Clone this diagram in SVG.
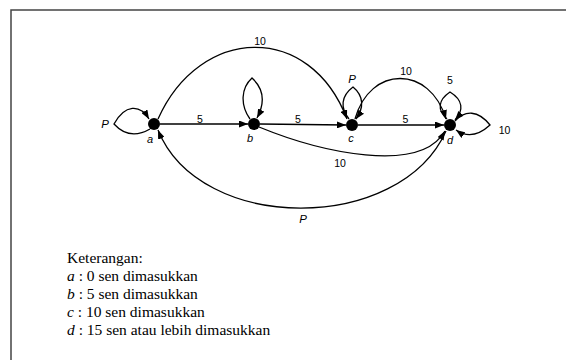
<svg xmlns="http://www.w3.org/2000/svg" width="566" height="360" viewBox="0 0 566 360">
<style>
.edge{fill:none;stroke:#000;stroke-width:1.3;marker-end:url(#arr)}
.node{fill:#000}
.lbl{font-family:"Liberation Sans",Arial,sans-serif;font-size:10.5px;fill:#000;text-anchor:middle}
.it{font-style:italic;font-size:11.5px}
.nl{font-family:"Liberation Sans",Arial,sans-serif;font-style:italic;font-size:11px;fill:#000;text-anchor:middle}
.leg{font-family:"Liberation Serif","Times New Roman",serif;font-size:15.5px;fill:#000}
.frame{fill:none;stroke:#444;stroke-width:1.5}
</style>
<defs>
<marker id="arr" viewBox="0 0 9 7" refX="9" refY="3.5" markerWidth="9" markerHeight="7" markerUnits="userSpaceOnUse" orient="auto">
<path d="M0,0 L9,3.5 L0,7 z" fill="#000"/>
</marker>
</defs>
<rect width="566" height="360" fill="#fff"/>
<path class="frame" d="M11,360 L11,10 L566,10"/>

<g id="connectors">
<path class="edge" d="M150,129 C138,136 125,136 114,124 C125,104 140,104 149,119"/>
<path class="edge" d="M250,119 C240,105 241,88 252,78 C265,90 265,103 257,118"/>
<path class="edge" d="M349,119 C340,108 341,96 353,87 C364,96 364,108 356,119"/>
<path class="edge" d="M447,119 C437,110 438,100 450,92 C463,100 464,110 455,120"/>
<path class="edge" d="M455,121 C465,110 478,110 490,125 C478,136 466,137 456,130"/>
<path class="edge" d="M160,124 L248,124"/>
<path class="edge" d="M260,124 L346,125"/>
<path class="edge" d="M358,125 L444,125"/>
<path class="edge" d="M158,119 C200,25 310,22 347,119"/>
<path class="edge" d="M355,119 C370,65 430,65 446,119"/>
<path class="edge" d="M259,127 C320,152 420,175 445,131"/>
<path class="edge" d="M446,131 C400,234 200,234 158,130"/>
</g>

<g id="edge-labels">
<text class="lbl" x="260" y="45">10</text>
<text class="lbl" x="200" y="122.5">5</text>
<text class="lbl" x="298" y="122.5">5</text>
<text class="lbl" x="405.5" y="123">5</text>
<text class="lbl" x="406" y="74.5">10</text>
<text class="lbl" x="450" y="84">5</text>
<text class="lbl" x="504.5" y="134">10</text>
<text class="lbl" x="340" y="166.5">10</text>
<text class="lbl it" x="105" y="128">P</text>
<text class="lbl it" x="352" y="83">P</text>
<text class="lbl it" x="303" y="223">P</text>
</g>

<g id="node-a"><circle class="node" cx="154" cy="124" r="6"/><text class="nl" x="150" y="143">a</text></g>
<g id="node-b"><circle class="node" cx="254" cy="124" r="6"/><text class="nl" x="250" y="141.5">b</text></g>
<g id="node-c"><circle class="node" cx="352" cy="125" r="6"/><text class="nl" x="351" y="142">c</text></g>
<g id="node-d"><circle class="node" cx="450" cy="125" r="6"/><text class="nl" x="450" y="143.5">d</text></g>

<g id="legend">
<text class="leg" x="67" y="263">Keterangan:</text>
<text class="leg" x="67" y="281"><tspan font-style="italic">a</tspan> : 0 sen dimasukkan</text>
<text class="leg" x="67" y="299"><tspan font-style="italic">b</tspan> : 5 sen dimasukkan</text>
<text class="leg" x="67" y="317"><tspan font-style="italic">c</tspan> : 10 sen dimasukkan</text>
<text class="leg" x="67" y="335"><tspan font-style="italic">d</tspan> : 15 sen atau lebih dimasukkan</text>
</g>
</svg>
